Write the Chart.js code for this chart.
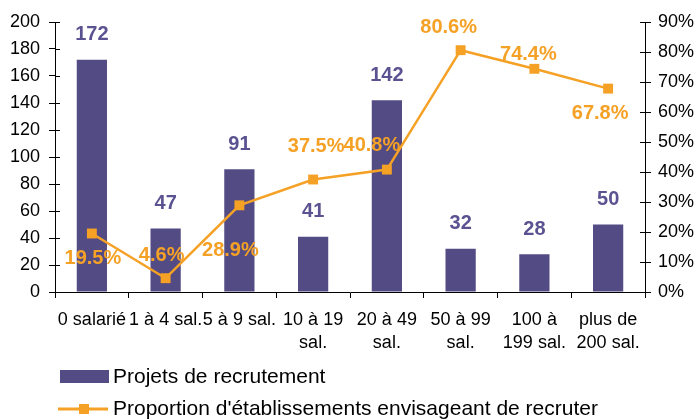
<!DOCTYPE html>
<html>
<head>
<meta charset="utf-8">
<script src="https://cdn.jsdelivr.net/npm/chart.js@4"></script>
<style>
  html, body { margin: 0; padding: 0; background: #fff; }
  #wrap { width: 697px; height: 419px; position: relative; }
</style>
</head>
<body>
<div id="wrap"><canvas id="chartCanvas"></canvas></div>
<script>
const categories = [
    ['0 salarié'], ['1 à 4 sal.'], ['5 à 9 sal.'], ['10 à 19', 'sal.'],
    ['20 à 49', 'sal.'], ['50 à 99', 'sal.'], ['100 à', '199 sal.'], ['plus de', '200 sal.']
];
const projets = [172, 47, 91, 41, 142, 32, 28, 50];
const proportion = [19.5, 4.6, 28.9, 37.5, 40.8, 80.6, 74.4, 67.8];
const leftTicks = [0, 200, 20];   // min, max, step
const rightTicks = [0, 90, 10];

const PURPLE = '#534b83';
const ORANGE = '#f5a126';
const FONT = '"Liberation Sans", Arial, sans-serif';

// offsets of the percentage labels from their points (as placed in the original)
const lineLabelOffsets = [[1, 25], [-4, -23], [-9, 45], [3, -33], [-15, -24], [-12, -23], [-6, -14], [-8, 25]];

const valueLabels = {
    id: 'valueLabels',
    afterDatasetsDraw(chart) {
        const ctx = chart.ctx;
        ctx.save();
        ctx.font = 'bold 20px ' + FONT;
        ctx.textAlign = 'center';
        ctx.textBaseline = 'middle';
        chart.data.datasets.forEach((ds, i) => {
            const meta = chart.getDatasetMeta(i);
            meta.data.forEach((el, j) => {
                if (ds.type === 'line') {
                    const off = lineLabelOffsets[j];
                    ctx.fillStyle = ORANGE;
                    ctx.fillText(ds.data[j].toFixed(1) + '%', el.x + off[0], el.y + off[1]);
                } else {
                    ctx.fillStyle = '#5a5291';
                    ctx.fillText(ds.data[j], el.x, el.y - 25);
                }
            });
        });
        ctx.restore();
    }
};

// the y axes have ticks crossing the axis line: draw the inner half
const innerTicks = {
    id: 'innerTicks',
    afterDraw(chart) {
        const ctx = chart.ctx;
        ctx.save();
        ctx.strokeStyle = '#000';
        ctx.lineWidth = 1;
        ['y', 'y1'].forEach(id => {
            const s = chart.scales[id];
            const x = id === 'y' ? s.right : s.left;
            const dir = id === 'y' ? 1 : -1;
            s.ticks.forEach((t, k) => {
                const y = Math.round(s.getPixelForTick(k)) + 0.5;
                ctx.beginPath();
                ctx.moveTo(x, y);
                ctx.lineTo(x + dir * 5, y);
                ctx.stroke();
            });
        });
        ctx.restore();
    }
};

// legend in two rows under the axis labels, like the original
const bottomLegend = {
    id: 'bottomLegend',
    afterDraw(chart) {
        const ctx = chart.ctx;
        const top = chart.chartArea.bottom;
        const x0 = 60, textX = 113;
        ctx.save();
        ctx.font = '21px ' + FONT;
        ctx.textBaseline = 'middle';
        ctx.textAlign = 'left';
        const bars = chart.data.datasets[1];
        const line = chart.data.datasets[0];

        let y = top + 85;
        ctx.fillStyle = PURPLE;
        ctx.fillRect(x0, y - 7, 49, 13);
        ctx.fillStyle = '#000';
        ctx.fillText(bars.label, textX, y);

        y = top + 117;
        ctx.strokeStyle = ORANGE;
        ctx.lineWidth = 3;
        ctx.beginPath();
        ctx.moveTo(x0 - 2, y);
        ctx.lineTo(x0 + 48, y);
        ctx.stroke();
        ctx.fillStyle = ORANGE;
        ctx.fillRect(x0 + 19, y - 5, 10, 10);
        ctx.fillStyle = '#000';
        ctx.fillText(line.label, textX, y);
        ctx.restore();
    }
};

new Chart(document.getElementById('chartCanvas'), {
    type: 'bar',
    data: {
        labels: categories,
        datasets: [{
            type: 'line',
            label: "Proportion d'établissements envisageant de recruter",
            data: proportion,
            yAxisID: 'y1',
            borderColor: ORANGE,
            backgroundColor: ORANGE,
            borderWidth: 2.5,
            tension: 0,
            pointStyle: 'rect',
            pointRadius: 7,
            pointBackgroundColor: ORANGE,
            pointBorderWidth: 0
        }, {
            type: 'bar',
            label: 'Projets de recrutement',
            data: projets,
            yAxisID: 'y',
            backgroundColor: PURPLE,
            categoryPercentage: 1,
            barPercentage: 0.41
        }]
    },
    options: {
        responsive: true,
        maintainAspectRatio: false,
        animation: false,
        layout: { padding: { top: 22, bottom: 63, left: 0, right: 0 } },
        plugins: {
            tooltip: { enabled: false },
            legend: { display: false }
        },
        scales: {
            x: {
                grid: { display: true, drawOnChartArea: false, color: '#000', tickLength: 6, offset: true },
                border: { color: '#000', width: 1 },
                ticks: {
                    autoSkip: false, maxRotation: 0, minRotation: 0, padding: 11,
                    color: '#000', font: { family: FONT, size: 18, lineHeight: 1.27 }
                },
                afterFit(s) { s.height = 64; }
            },
            y: {
                position: 'left',
                min: leftTicks[0], max: leftTicks[1],
                grid: { drawOnChartArea: false, color: '#000', tickLength: 6 },
                border: { color: '#000', width: 1 },
                ticks: { stepSize: leftTicks[2], padding: 9, color: '#000', font: { family: FONT, size: 18 } },
                afterFit(s) { s.width = 55; }
            },
            y1: {
                position: 'right',
                min: rightTicks[0], max: rightTicks[1],
                grid: { drawOnChartArea: false, color: '#000', tickLength: 6 },
                border: { color: '#000', width: 1 },
                ticks: {
                    stepSize: rightTicks[2], padding: 7, color: '#000',
                    font: { family: FONT, size: 18 },
                    callback: v => v + '%'
                },
                afterFit(s) { s.width = 52; }
            }
        }
    },
    plugins: [valueLabels, innerTicks, bottomLegend]
});
</script>
</body>
</html>
